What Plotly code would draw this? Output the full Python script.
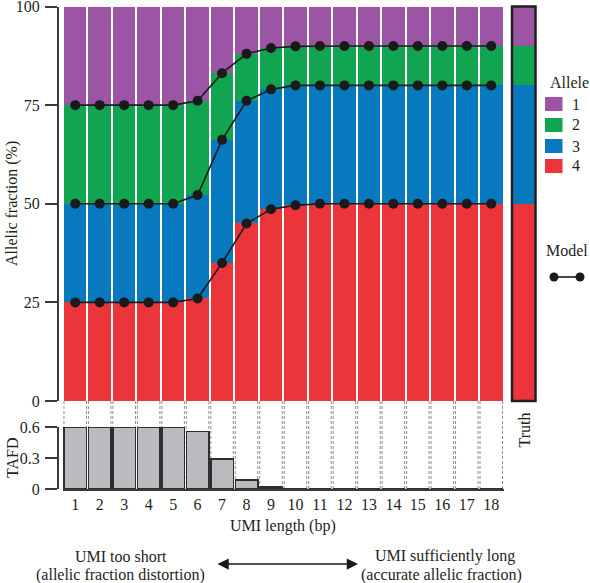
import numpy as np
import plotly.graph_objects as go

# ---------------- data ----------------
umi_length = list(range(1, 19))
allele_names = ["1", "2", "3", "4"]
allele1 = [25, 25, 25, 25, 25, 23.9, 16.9, 12.0, 10.5, 10.1, 10, 10, 10, 10, 10, 10, 10, 10]
allele2 = [25, 25, 25, 25, 25, 23.9, 16.9, 11.9, 10.5, 9.9, 10, 10, 10, 10, 10, 10, 10, 10]
allele3 = [25, 25, 25, 25, 25, 26.2, 31.2, 31.1, 30.4, 30.4, 30, 30, 30, 30, 30, 30, 30, 30]
allele4 = [25, 25, 25, 25, 25, 26.0, 35.0, 45.0, 48.6, 49.6, 50, 50, 50, 50, 50, 50, 50, 50]
truth = {"1": 10, "2": 10, "3": 30, "4": 50}
tafd = [0.6, 0.6, 0.6, 0.6, 0.6, 0.555, 0.288, 0.088, 0.018, 0.005, 0, 0, 0, 0, 0, 0, 0, 0]
y_ticks = [0, 25, 50, 75, 100]
tafd_ticks = [0, 0.3, 0.6]
tafd_ticktext = ["0", "0.3", "0.6"]

# ---------------- style ----------------
W, H = 590, 583
FONT = "Liberation Serif"
TXT = "#231f20"
colors = {"1": "#9C55A5", "2": "#12A551", "3": "#0878BF", "4": "#EC353A"}
AXC = "#3a3a3a"
BARGAP = 0.08

def px_x(p):
    return p / W

def px_y(p):
    return (H - p) / H

def label(text, x, y, angle=0, xanchor="center"):
    return dict(text=text, x=px_x(x), y=px_y(y), xref="paper", yref="paper",
                xanchor=xanchor, yanchor="middle", textangle=angle, showarrow=False,
                font=dict(size=16))

series = {"1": allele1, "2": allele2, "3": allele3, "4": allele4}

fig = go.Figure()

# stacked allele bars (bottom to top: 4,3,2,1)
for name in ["4", "3", "2", "1"]:
    fig.add_trace(go.Bar(
        x=umi_length, y=series[name], name=name,
        marker=dict(color=colors[name], line=dict(width=0)),
        xaxis="x", yaxis="y", showlegend=False,
    ))

# truth bar
for name in ["4", "3", "2", "1"]:
    fig.add_trace(go.Bar(
        x=[0], y=[truth[name]], width=[1], name=name,
        marker=dict(color=colors[name], line=dict(width=0)),
        xaxis="x3", yaxis="y", showlegend=False,
    ))

# model boundaries (cumulative)
cum = np.cumsum(np.array([allele4, allele3, allele2]), axis=0)
for row in cum:
    fig.add_trace(go.Scatter(
        x=umi_length, y=row, mode="lines+markers",
        line=dict(color="#1a1a1a", width=1.6),
        marker=dict(color="#1a1a1a", size=10),
        xaxis="x", yaxis="y", showlegend=False, hoverinfo="skip",
    ))

# TAFD bars
fig.add_trace(go.Bar(
    x=umi_length, y=tafd, marker=dict(color="#B9BBBF", line=dict(color="#2e2e2e", width=1.5)),
    xaxis="x2", yaxis="y2", showlegend=False,
))

# dashed guide lines at bar edges
half = (1 - BARGAP) / 2
shapes = []
for u in umi_length:
    for edge in (u - half, u + half):
        shapes.append(dict(type="line", xref="x2", yref="paper", x0=edge, x1=edge,
                           y0=px_y(489), y1=px_y(401), layer="below",
                           line=dict(color="#8f8f8f", width=1, dash="3px,2px")))
# truth border
shapes.append(dict(type="rect", xref="x3 domain", yref="y domain", x0=0, x1=1, y0=0, y1=1,
                   line=dict(color="#231f20", width=2.5), fillcolor="rgba(0,0,0,0)"))

annotations = []
# manual legend: Allele
annotations.append(label("Allele", 569, 82))
legend_rows = [104, 125, 146, 166]
for name, yy in zip(allele_names, legend_rows):
    shapes.append(dict(type="rect", xref="paper", yref="paper",
                       x0=px_x(545), x1=px_x(562.5), y0=px_y(yy + 7), y1=px_y(yy - 7),
                       fillcolor=colors[name], line=dict(width=0)))
    annotations.append(label(name, 570, yy, xanchor="left"))
# manual legend: Model
annotations.append(label("Model", 567, 251))
shapes.append(dict(type="line", xref="paper", yref="paper", x0=px_x(554), x1=px_x(580),
                   y0=px_y(277), y1=px_y(277), line=dict(color="#1a1a1a", width=1.6)))
for cx in (554, 580):
    shapes.append(dict(type="circle", xref="paper", yref="paper",
                       x0=px_x(cx - 4.5), x1=px_x(cx + 4.5), y0=px_y(277 + 4.5), y1=px_y(277 - 4.5),
                       fillcolor="#1a1a1a", line=dict(color="#1a1a1a", width=0)))

annotations += [
    label("Allelic fraction (%)", 12, 204, angle=-90),
    label("TAFD", 12, 458, angle=-90),
    label("UMI length (bp)", 283, 526),
    label("Truth", 523.5, 430, angle=-90),
    label("UMI too short", 121, 556),
    label("(allelic fraction distortion)", 121, 575),
    label("UMI sufficiently long", 445, 556),
    label("(accurate allelic fraction)", 441, 575),
    dict(text="", x=px_x(358), y=px_y(564), ax=-142, ay=0,
         xref="paper", yref="paper", axref="pixel", ayref="pixel",
         showarrow=True, arrowhead=2, arrowside="end+start", arrowsize=1.5,
         arrowwidth=1.5, arrowcolor="#1a1a1a"),
]

axis_common = dict(showgrid=False, zeroline=False, automargin=False,
                   tickfont=dict(family=FONT, size=16, color=TXT))
fig.update_layout(
    template="none",
    width=W, height=H, autosize=False,
    margin=dict(l=0, r=0, t=0, b=0, pad=0),
    paper_bgcolor="white", plot_bgcolor="white",
    font=dict(family=FONT, size=16, color=TXT),
    barmode="stack", bargap=BARGAP, showlegend=False,
    xaxis=dict(domain=[px_x(63), px_x(503.5)], range=[0.5, 18.5], anchor="y",
               visible=False, **axis_common),
    yaxis=dict(domain=[px_y(401), px_y(6.5)], range=[0, 100], anchor="free", position=px_x(58),
               tickvals=y_ticks, ticks="outside", ticklen=12, tickwidth=2, tickcolor=AXC,
               showline=True, linecolor=AXC, linewidth=2, ticklabelstandoff=2,
               ticklabeloverflow="allow", **axis_common),
    xaxis2=dict(domain=[px_x(63), px_x(503.5)], range=[0.5, 18.5], anchor="y2",
                tickvals=umi_length, ticks="", showline=True, linecolor=AXC, linewidth=2,
                ticklabelstandoff=0, **axis_common),
    yaxis2=dict(domain=[px_y(489), px_y(427)], range=[0, 0.6], anchor="free", position=px_x(58),
                tickvals=tafd_ticks, ticktext=tafd_ticktext, ticks="outside", ticklen=12,
                tickwidth=2, tickcolor=AXC, showline=True, linecolor=AXC, linewidth=2,
                ticklabelstandoff=2, **axis_common),
    xaxis3=dict(domain=[px_x(512), px_x(535.5)], range=[-0.5, 0.5], anchor="y",
                visible=False, **axis_common),
    shapes=shapes,
    annotations=annotations,
)

fig.write_html("out.html", config={"displayModeBar": False},
               post_script="document.body.style.margin='0';")
